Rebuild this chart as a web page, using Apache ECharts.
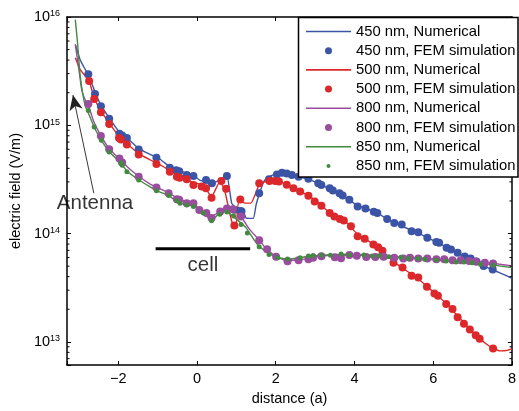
<!DOCTYPE html>
<html>
<head>
<meta charset="utf-8">
<script src="https://cdn.jsdelivr.net/npm/echarts@6/dist/echarts.min.js"></script>
<style>html,body{margin:0;padding:0;background:#fff;}#c{width:519px;height:411px;}</style>
</head>
<body>
<div id="c"></div>
<script>
// ---- data (x in units of a, field in V/m) ----
const num450 = [[-3.09,5.58e15],[-2.97,4.06e15],[-2.84,3.29e15],[-2.76,2.96e15],[-2.59,2.03e15],[-2.43,1.51e15],[-2.23,1.17e15],[-1.98,8.72e14],[-1.78,7.68e14],[-1.48,6.09e14],[-1.18,5.37e14],[-0.93,4.83e14],[-0.70,4.17e14],[-0.43,3.79e14],[-0.10,3.45e14],[0.08,3.10e14],[0.24,3.04e14],[0.33,2.85e14],[0.45,2.97e14],[0.60,3.17e14],[0.76,3.38e14],[0.88,1.91e14],[0.98,1.74e14],[1.15,1.72e14],[1.25,1.39e14],[1.43,1.38e14],[1.50,1.83e14],[1.58,2.31e14],[1.70,3.04e14],[1.83,3.34e14],[2.00,3.56e14],[2.15,3.67e14],[2.33,3.59e14],[2.58,3.34e14],[2.83,3.17e14],[3.08,2.91e14],[3.33,2.62e14],[3.58,2.36e14],[3.83,2.08e14],[4.08,1.81e14],[4.33,1.68e14],[4.58,1.55e14],[4.83,1.36e14],[5.08,1.23e14],[5.33,1.12e14],[5.58,1.03e14],[5.83,9.23e13],[6.08,8.39e13],[6.33,7.47e13],[6.58,6.73e13],[6.83,6.05e13],[7.08,5.56e13],[7.33,4.95e13],[7.58,4.51e13],[7.83,4.14e13],[8.0,3.85e13]];
const fem450 = [[-2.76,2.96e15],[-2.59,1.94e15],[-2.44,1.50e15],[-2.23,1.15e15],[-1.97,8.36e14],[-1.90,8.06e14],[-1.78,7.63e14],[-1.48,5.96e14],[-1.03,5.01e14],[-0.69,4.06e14],[-0.53,3.85e14],[-0.45,3.77e14],[-0.26,3.47e14],[-0.09,3.40e14],[0.23,3.12e14],[0.38,2.91e14],[0.76,3.40e14],[0.95,1.66e14],[1.13,1.61e14],[1.58,2.36e14],[1.83,3.17e14],[2.03,3.52e14],[2.16,3.65e14],[2.28,3.59e14],[2.41,3.47e14],[2.58,3.35e14],[2.83,3.20e14],[3.08,2.91e14],[3.16,2.81e14],[3.37,2.62e14],[3.45,2.50e14],[3.62,2.36e14],[3.70,2.25e14],[3.87,2.05e14],[4.08,1.78e14],[4.28,1.70e14],[4.49,1.59e14],[4.58,1.55e14],[4.83,1.36e14],[5.01,1.25e14],[5.20,1.21e14],[5.45,1.05e14],[5.62,1.03e14],[5.85,9.13e13],[6.08,8.34e13],[6.15,8.22e13],[6.34,7.39e13],[6.45,7.13e13],[6.62,6.66e13],[6.80,6.14e13],[6.95,5.87e13],[7.10,5.51e13],[7.28,5.03e13],[7.51,4.65e13]];
const num500 = [[-3.09,4.21e15],[-2.97,3.29e15],[-2.74,2.56e15],[-2.61,1.79e15],[-2.44,1.36e15],[-2.23,1.05e15],[-1.98,7.85e14],[-1.78,6.77e14],[-1.48,5.48e14],[-1.18,4.78e14],[-1.03,4.49e14],[-0.69,3.83e14],[-0.43,3.34e14],[-0.09,2.97e14],[0.16,2.79e14],[0.37,2.19e14],[0.58,3.02e14],[0.70,2.53e14],[0.83,1.55e14],[0.91,1.21e14],[0.99,1.17e14],[1.06,1.98e14],[1.24,1.91e14],[1.37,1.91e14],[1.58,2.81e14],[1.74,3.02e14],[1.99,3.12e14],[2.20,2.94e14],[2.45,2.65e14],[2.62,2.46e14],[2.83,2.24e14],[3.08,1.93e14],[3.33,1.60e14],[3.58,1.39e14],[3.70,1.34e14],[3.83,1.23e14],[4.08,9.83e13],[4.33,8.66e13],[4.58,7.55e13],[4.83,6.25e13],[5.08,5.22e13],[5.33,4.51e13],[5.58,3.93e13],[5.83,3.28e13],[6.08,2.72e13],[6.33,2.27e13],[6.58,1.80e13],[6.83,1.43e13],[7.08,1.16e13],[7.33,9.66e12],[7.53,8.70e12],[7.70,8.25e12],[7.88,8.34e12],[8.0,8.66e12]];
const fem500 = [[-2.74,2.57e15],[-2.61,1.75e15],[-2.44,1.32e15],[-2.23,1.03e15],[-1.98,7.63e14],[-1.93,7.41e14],[-1.78,6.63e14],[-1.48,5.37e14],[-1.03,4.38e14],[-0.69,3.73e14],[-0.51,3.35e14],[-0.44,3.28e14],[-0.26,3.17e14],[-0.09,2.81e14],[0.12,2.72e14],[0.23,2.62e14],[0.37,2.14e14],[0.62,3.06e14],[0.74,2.59e14],[0.95,1.19e14],[1.10,2.06e14],[1.58,2.91e14],[1.84,3.06e14],[1.99,3.06e14],[2.08,3.02e14],[2.28,2.82e14],[2.45,2.62e14],[2.62,2.44e14],[2.83,2.24e14],[2.99,1.98e14],[3.16,1.81e14],[3.37,1.55e14],[3.49,1.44e14],[3.63,1.36e14],[3.73,1.32e14],[3.91,1.17e14],[4.08,9.46e13],[4.26,8.94e13],[4.48,7.93e13],[4.60,7.47e13],[4.71,6.94e13],[4.99,5.39e13],[5.22,4.85e13],[5.45,4.07e13],[5.62,3.93e13],[5.84,3.23e13],[6.03,2.80e13],[6.12,2.67e13],[6.33,2.24e13],[6.49,2.01e13],[6.62,1.69e13],[6.78,1.47e13],[6.93,1.30e13],[7.08,1.15e13],[7.18,1.07e13],[7.52,8.66e12]];
const num800 = [[-3.09,5.58e15],[-3.0,3.29e15],[-2.93,2.16e15],[-2.85,1.75e15],[-2.76,1.54e15],[-2.63,1.10e15],[-2.44,8.01e14],[-2.23,6.09e14],[-1.98,4.93e14],[-1.78,4.17e14],[-1.48,3.38e14],[-1.18,2.85e14],[-1.03,2.68e14],[-0.73,2.38e14],[-0.43,2.06e14],[-0.09,1.91e14],[0.06,1.68e14],[0.24,1.55e14],[0.38,1.45e14],[0.59,1.60e14],[0.76,1.70e14],[0.90,1.68e14],[1.01,1.62e14],[1.12,1.44e14],[1.33,1.10e14],[1.58,8.75e13],[1.74,7.39e13],[1.99,6.21e13],[2.28,5.62e13],[2.58,5.74e13],[2.83,5.87e13],[3.08,6.12e13],[3.45,6.31e13],[3.83,6.31e13],[4.20,6.31e13],[4.58,6.18e13],[4.95,6.05e13],[5.33,5.99e13],[5.70,5.93e13],[6.08,5.80e13],[6.45,5.68e13],[6.83,5.62e13],[7.20,5.45e13],[7.58,5.28e13],[8.0,5.03e13]];
const fem800 = [[-2.76,1.57e15],[-2.44,7.96e14],[-2.23,6.00e14],[-1.97,4.93e14],[-1.90,4.53e14],[-1.48,3.35e14],[-1.03,2.66e14],[-0.72,2.36e14],[-0.51,2.08e14],[-0.45,2.05e14],[-0.26,1.91e14],[-0.09,1.91e14],[0.06,1.65e14],[0.24,1.55e14],[0.37,1.39e14],[0.59,1.60e14],[0.76,1.70e14],[0.91,1.68e14],[1.12,1.44e14],[1.58,8.66e13],[1.78,7.16e13],[2.01,6.12e13],[2.30,5.54e13],[2.58,5.66e13],[2.83,5.80e13],[2.95,5.99e13],[3.16,6.18e13],[3.50,6.05e13],[3.66,5.93e13],[3.87,6.34e13],[4.06,6.25e13],[4.30,6.08e13],[4.53,6.08e13],[4.74,6.12e13],[5.01,5.99e13],[5.24,5.90e13],[5.41,5.99e13],[5.62,5.90e13],[5.85,5.87e13],[6.08,5.78e13],[6.28,5.78e13],[6.49,5.66e13],[6.70,5.66e13],[6.91,5.59e13],[7.08,5.51e13],[7.31,5.39e13],[7.52,5.28e13]];
const num850 = [[-3.09,9.45e15],[-3.03,5.58e15],[-2.97,2.96e15],[-2.90,1.94e15],[-2.83,1.48e15],[-2.76,1.30e15],[-2.61,9.59e14],[-2.43,7.29e14],[-2.23,5.72e14],[-1.94,4.49e14],[-1.78,3.79e14],[-1.48,3.14e14],[-1.18,2.68e14],[-1.03,2.49e14],[-0.72,2.24e14],[-0.43,1.91e14],[-0.09,1.79e14],[0.16,1.55e14],[0.37,1.32e14],[0.56,1.53e14],[0.76,1.60e14],[0.91,1.45e14],[1.01,1.35e14],[1.24,1.14e14],[1.45,8.75e13],[1.58,7.63e13],[1.83,6.52e13],[2.08,5.99e13],[2.33,5.80e13],[2.62,5.99e13],[2.91,6.25e13],[3.33,6.34e13],[3.70,6.45e13],[4.08,6.38e13],[4.45,6.31e13],[4.83,6.18e13],[5.20,6.05e13],[5.58,5.90e13],[5.95,5.74e13],[6.33,5.59e13],[6.70,5.47e13],[7.08,5.33e13],[7.53,5.11e13],[8.0,4.85e13]];
const fem850 = [[-2.76,1.37e15],[-2.61,9.63e14],[-2.43,7.26e14],[-2.23,5.68e14],[-1.94,4.51e14],[-1.90,4.28e14],[-1.78,3.73e14],[-1.48,3.12e14],[-1.03,2.48e14],[-0.72,2.25e14],[-0.51,2.01e14],[-0.43,1.91e14],[-0.26,1.84e14],[-0.09,1.78e14],[0.16,1.55e14],[0.37,1.31e14],[0.58,1.51e14],[0.76,1.58e14],[0.93,1.45e14],[1.12,1.21e14],[1.28,1.01e14],[1.58,7.55e13],[1.83,6.42e13],[2.05,5.99e13],[2.30,5.83e13],[2.62,5.99e13],[2.83,6.21e13],[2.95,6.28e13],[3.16,6.31e13],[3.39,6.31e13],[3.66,6.48e13],[3.87,6.34e13],[4.24,6.34e13],[4.45,6.21e13],[4.63,6.25e13],[4.87,6.12e13],[5.18,6.05e13],[5.37,5.87e13],[5.61,5.88e13],[5.78,5.78e13],[6.08,5.71e13],[6.33,5.59e13],[6.58,5.47e13],[6.78,5.47e13],[6.99,5.39e13],[7.20,5.20e13],[7.53,5.09e13]];

// annotations
const cellBar = [[-1.05, 7.24e13], [1.35, 7.24e13]];
const antennaArrow = [[-2.62, 2.36e14], [-3.15, 1.90e15]];
const annotationTexts = [{ name: 'Antenna', value: [-2.59, 1.89e14] }, { name: 'cell', value: [0.15, 5.08e13] }];

// axes
const xMin = -3.3, xMax = 8;
const yMin = 6.1e12, yMax = 1e16;
const minorTickValues = [7e12, 8e12, 9e12,
  2e13, 3e13, 4e13, 5e13, 6e13, 7e13, 8e13, 9e13,
  2e14, 3e14, 4e14, 5e14, 6e14, 7e14, 8e14, 9e14,
  2e15, 3e15, 4e15, 5e15, 6e15, 7e15, 8e15, 9e15];

const seriesNames = ['450 nm, Numerical', '450 nm, FEM simulation', '500 nm, Numerical', '500 nm, FEM simulation',
  '800 nm, Numerical', '800 nm, FEM simulation', '850 nm, Numerical', '850 nm, FEM simulation'];
const seriesColors = ['#3C54A5', '#3C54A5', '#DC282B', '#DC282B', '#9A4C9E', '#9A4C9E', '#428A40', '#428A40'];
const seriesData = [num450, fem450, num500, fem500, num800, fem800, num850, fem850];

const FONT = '"Liberation Sans", Arial, Helvetica, sans-serif';
const chart = echarts.init(document.getElementById('c'), null, { renderer: 'canvas' });

const xLabelFmt = v => (Math.abs(v - Math.round(v)) > 1e-6 ? '' : String(v).replace('-', '\u2212'));
const yLabelFmt = v => {
  const e = Math.log10(v);
  if (Math.abs(e - Math.round(e)) > 1e-6) return '';
  return '{b|10}{s|' + Math.round(e) + '}';
};
const lineAxis = { show: true, onZero: false, lineStyle: { color: '#000', width: 1.5 } };
const tickAxis = { show: true, inside: true, length: 4, lineStyle: { color: '#000', width: 1 } };

const series = seriesData.map((d, i) => {
  const isLine = i % 2 === 0;
  if (isLine) {
    return { name: seriesNames[i], type: 'line', data: d, symbol: 'none', smooth: 0.15,
      lineStyle: { color: seriesColors[i], width: 1.4 }, itemStyle: { color: seriesColors[i] }, z: 2 };
  }
  return { name: seriesNames[i], type: 'scatter', data: d, symbol: 'circle',
    symbolSize: i === 7 ? 5 : 8, itemStyle: { color: seriesColors[i], opacity: 1 }, z: 3 };
});

series.push({
  name: 'cellBar', type: 'line', data: cellBar, symbol: 'none', silent: true,
  lineStyle: { color: '#000', width: 3 }, z: 4,
  markLine: {
    silent: true, animation: false, symbol: ['none', 'arrow'], symbolSize: [10, 15],
    lineStyle: { color: '#222', width: 0.9, type: 'solid' }, label: { show: false },
    data: [[{ coord: antennaArrow[0] }, { coord: antennaArrow[1] }]]
  }
});
series.push({
  name: 'annot', type: 'scatter', data: annotationTexts, symbolSize: 0, silent: true, z: 5,
  label: { show: true, position: 'inside', formatter: '{b}', color: '#000', fontSize: 20.5, fontFamily: FONT }
});
series.push({
  name: 'minorTicks', type: 'custom', coordinateSystem: 'cartesian2d', silent: true, clip: false, z: 6,
  data: minorTickValues.map(v => [xMin, v]),
  renderItem: (params, api) => {
    const v = api.value(1);
    const pL = api.coord([xMin, v]);
    const pR = api.coord([xMax, v]);
    return { type: 'group', children: [
      { type: 'line', shape: { x1: pL[0], y1: pL[1], x2: pL[0] + 2.5, y2: pL[1] }, style: { stroke: '#000', lineWidth: 1 } },
      { type: 'line', shape: { x1: pR[0], y1: pR[1], x2: pR[0] - 2.5, y2: pR[1] }, style: { stroke: '#000', lineWidth: 1 } }
    ] };
  }
});

// legend: one component per row; line rows show a 45px line, dot rows a dot centred in the same 45px slot
const LEG_X = 306, LEG_W = 45, ROW0 = 31.5, ROW_STEP = 19.2;
const legends = seriesNames.map((n, i) => {
  const isLine = i % 2 === 0;
  const dot = i === 7 ? 4 : 7;
  return {
    data: [{ name: n, icon: isLine ? 'rect' : 'circle' }],
    orient: 'vertical', left: isLine ? LEG_X : LEG_X + (LEG_W - dot) / 2,
    top: ROW0 + i * ROW_STEP - 7.5, padding: 0,
    itemWidth: LEG_W, itemHeight: isLine ? 1.6 : dot,
    textStyle: { fontSize: 14.8, color: '#000', fontFamily: FONT },
    selectedMode: false, z: 11
  };
});

chart.setOption({
  animation: false,
  backgroundColor: '#fff',
  grid: { left: 65, right: 1, top: 17, bottom: 43, containLabel: false },
  legend: legends,
  graphic: [{ type: 'rect', z: 10, shape: { x: 298.5, y: 17.5, width: 219.5, height: 159.5 },
    style: { fill: '#fff', stroke: '#000', lineWidth: 1.5 } }],
  xAxis: [
    { type: 'value', min: xMin, max: xMax, splitNumber: 5, position: 'bottom',
      axisLine: lineAxis, axisTick: tickAxis, splitLine: { show: false },
      axisLabel: { formatter: xLabelFmt, fontSize: 14.5, color: '#000', margin: 6, fontFamily: FONT },
      name: 'distance (a)', nameLocation: 'middle', nameGap: 23,
      nameTextStyle: { fontSize: 14.5, color: '#000', fontFamily: FONT } },
    { type: 'value', min: xMin, max: xMax, splitNumber: 5, position: 'top',
      axisLine: lineAxis, axisTick: tickAxis, splitLine: { show: false }, axisLabel: { show: false } }
  ],
  yAxis: [
    { type: 'log', logBase: 10, min: yMin, max: yMax, position: 'left',
      axisLine: lineAxis, axisTick: tickAxis, splitLine: { show: false },
      axisLabel: { formatter: yLabelFmt, margin: 7, color: '#000', fontFamily: FONT,
        rich: { b: { fontSize: 14.5, color: '#000', fontFamily: FONT },
                s: { fontSize: 9, color: '#000', fontFamily: FONT, verticalAlign: 'top' } } },
      name: 'electric field (V/m)', nameLocation: 'middle', nameGap: 37,
      nameTextStyle: { fontSize: 14.5, color: '#000', fontFamily: FONT } },
    { type: 'log', logBase: 10, min: yMin, max: yMax, position: 'right',
      axisLine: lineAxis, axisTick: tickAxis, splitLine: { show: false }, axisLabel: { show: false } }
  ],
  series: series
});
</script>
</body>
</html>
